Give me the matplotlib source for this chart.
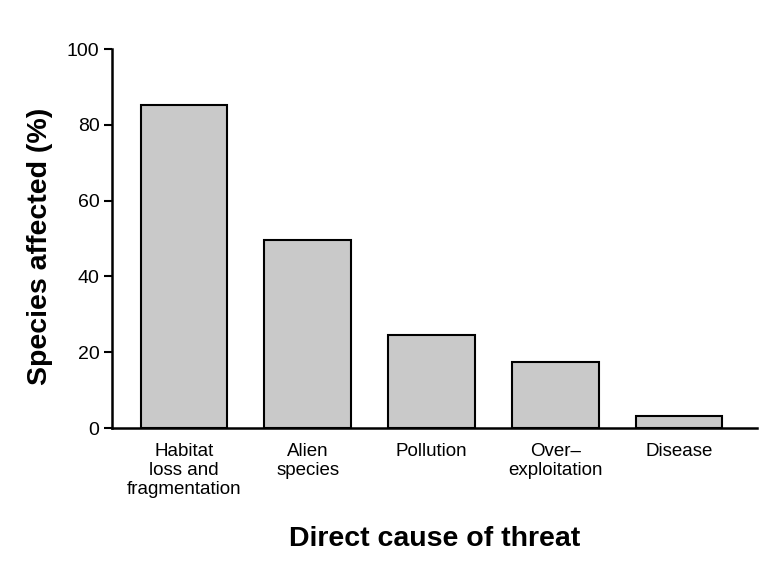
import matplotlib
matplotlib.use("Agg")
import matplotlib.pyplot as plt

categories = ["Habitat\nloss and\nfragmentation", "Alien\nspecies", "Pollution",
              "Over\u2013\nexploitation", "Disease"]
values = [85.3, 49.5, 24.5, 17.5, 3.2]
yticks = [0, 20, 40, 60, 80, 100]

plt.rcParams['font.family'] = ['Liberation Sans', 'DejaVu Sans']

fig = plt.figure(figsize=(7.71, 5.82), dpi=100)
ax = fig.add_axes([0.1453, 0.2646, 0.8367, 0.6512])

x = list(range(len(categories)))
ax.bar(x, values, width=0.7, color="#c9c9c9", edgecolor="black", linewidth=1.5, zorder=2)

ax.set_xlim(-0.58, 4.63)
ax.set_ylim(0, 100)
ax.set_yticks(yticks)
ax.set_yticklabels([str(t) for t in yticks], fontsize=14)
ax.set_xticks(x)
ax.set_xticklabels(categories, fontsize=13.5, linespacing=1.15, va="top")
ax.tick_params(axis="x", length=0, pad=11)
ax.tick_params(axis="y", length=6, width=1.5, direction="out", pad=3)

for s in ["top", "right"]:
    ax.spines[s].set_visible(False)
ax.spines["left"].set_linewidth(1.8)
ax.spines["bottom"].set_linewidth(1.8)

ax.set_xlabel("Direct cause of threat", fontsize=20.5, fontweight="bold", labelpad=20)
ax.set_ylabel("Species affected (%)", fontsize=20.5, fontweight="bold")
ax.yaxis.set_label_coords(-0.092, 0.478)

fig.savefig("out.png", dpi=100)
